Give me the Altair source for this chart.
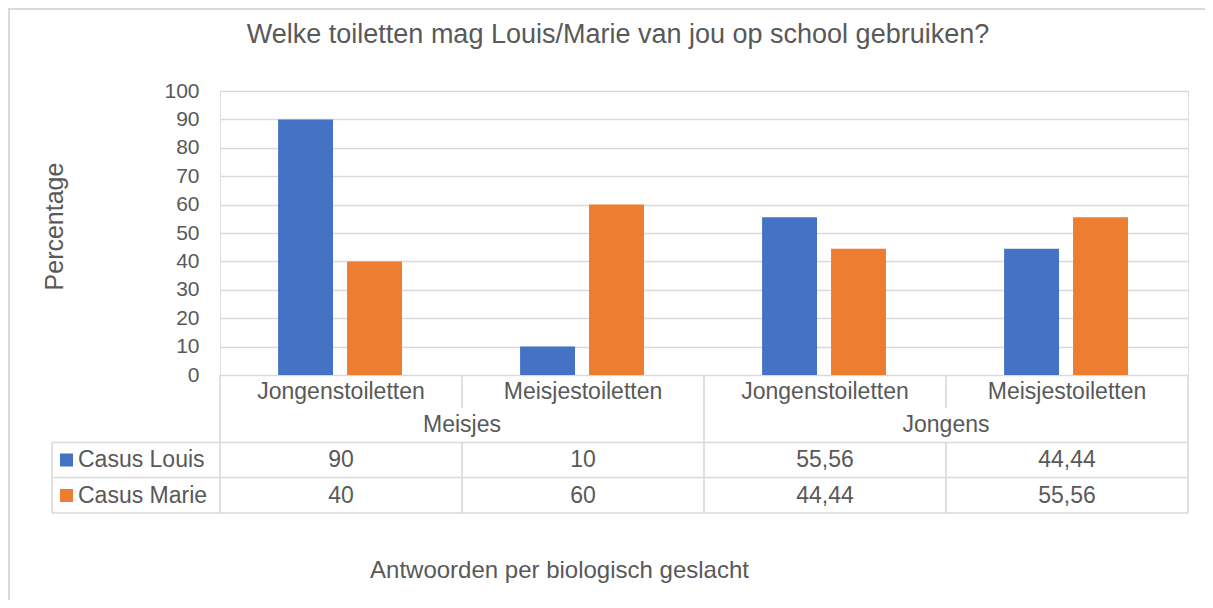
import altair as alt
import pandas as pd

# ---- data ----
categories = ["Jongenstoiletten", "Meisjestoiletten", "Jongenstoiletten", "Meisjestoiletten"]
groups = ["Meisjes", "Jongens"]
series = ["Casus Louis", "Casus Marie"]
louis = [90, 10, 55.56, 44.44]
marie = [40, 60, 44.44, 55.56]
colors = ["#4472C4", "#ED7D31"]
y_ticks = [0, 10, 20, 30, 40, 50, 60, 70, 80, 90, 100]

title_text = "Welke toiletten mag Louis/Marie van jou op school gebruiken?"
x_title = "Antwoorden per biologisch geslacht"
y_title = "Percentage"

# ---- style / layout constants ----
TEXT = "#595959"
GRID = "#D9D9D9"
FONT = "Liberation Sans"
W, H = 968, 284
PX = H / 100.0            # pixels per y unit
CAT_PX = W / 4.0          # pixels per category
TFS = 23                  # table font size


def below(px):
    """y value (data units) for a position px pixels below the x axis"""
    return -px / PX


LEG = -168 / CAT_PX       # left edge of the legend column (x units)
ROW = [below(16.5), below(50), below(85), below(120.5)]     # row centres
LINE = [0, below(33), below(67.5), below(102.5), below(138)]  # row borders

bar_off = {series[0]: (0.24, 0.467), series[1]: (0.525, 0.752)}


def fmt(v):
    return f"{v:g}".replace(".", ",")


# bars
bar_rows = []
for s, vals in zip(series, [louis, marie]):
    a, b = bar_off[s]
    for i, v in enumerate(vals):
        bar_rows.append({"series": s, "x": i + a, "x2": i + b, "y": v, "y2": 0})
bars_df = pd.DataFrame(bar_rows)

# table lines
lines = []
for xv in [0, 2, 4]:
    lines.append({"x": xv, "x2": xv, "y": LINE[0], "y2": LINE[4]})
for xv in [1, 3]:
    lines.append({"x": xv, "x2": xv, "y": LINE[0], "y2": LINE[1]})
    lines.append({"x": xv, "x2": xv, "y": LINE[2], "y2": LINE[4]})
lines.append({"x": LEG, "x2": LEG, "y": LINE[2], "y2": LINE[4]})
for yv in [LINE[2], LINE[3], LINE[4]]:
    lines.append({"x": LEG, "x2": 4, "y": yv, "y2": yv})
lines_df = pd.DataFrame(lines)

# centred table texts
texts = []
for i, c in enumerate(categories):
    texts.append({"x": i + 0.5, "y": ROW[0], "t": c})
for j, g in enumerate(groups):
    texts.append({"x": 2 * j + 1, "y": ROW[1], "t": g})
for r, vals in enumerate([louis, marie]):
    for i, v in enumerate(vals):
        texts.append({"x": i + 0.5, "y": ROW[2 + r], "t": fmt(v)})
texts_df = pd.DataFrame(texts)

# legend column
leg_df = pd.DataFrame({
    "series": series,
    "x": [LEG + 14.5 / CAT_PX] * 2,
    "xt": [LEG + 26 / CAT_PX] * 2,
    "y": [ROW[2], ROW[3]],
})

x_scale = alt.Scale(domain=[0, 4], nice=False, zero=False)
y_scale = alt.Scale(domain=[0, 100], nice=False, zero=False)
color_scale = alt.Scale(domain=series, range=colors)

x_axis = alt.Axis(labels=False, ticks=False, domain=False, grid=False,
                  titleX=339, titleY=202, titleAlign="center",
                  titleBaseline="alphabetic", titleFontSize=24,
                  titleFont=FONT, titleColor=TEXT, titleFontWeight="normal")
y_axis = alt.Axis(values=y_ticks, labelFontSize=21, labelFont=FONT,
                  labelColor=TEXT, labelPadding=21, ticks=False,
                  domain=False, grid=True, gridColor=GRID, gridWidth=1.5,
                  titleX=-158, titleY=135, titleAngle=270,
                  titleAlign="center", titleBaseline="alphabetic",
                  titleFontSize=25, titleFont=FONT, titleColor=TEXT,
                  titleFontWeight="normal")


def X(field):
    return alt.X(field, scale=x_scale, axis=x_axis, title=x_title)


def Y(field):
    return alt.Y(field, scale=y_scale, axis=y_axis, title=y_title)


bars = alt.Chart(bars_df).mark_rect().encode(
    x=X("x:Q"), x2="x2:Q", y=Y("y:Q"), y2="y2:Q",
    color=alt.Color("series:N", scale=color_scale, legend=None),
)

rules = alt.Chart(lines_df).mark_rule(color=GRID, strokeWidth=1.6).encode(
    x=X("x:Q"), x2="x2:Q", y=Y("y:Q"), y2="y2:Q",
)

table_text = alt.Chart(texts_df).mark_text(
    font=FONT, fontSize=TFS, color=TEXT, align="center", baseline="middle"
).encode(x=X("x:Q"), y=Y("y:Q"), text="t:N")

leg_sq = alt.Chart(leg_df).mark_square(size=169, opacity=1).encode(
    x=X("x:Q"), y=Y("y:Q"),
    color=alt.Color("series:N", scale=color_scale, legend=None),
)
leg_txt = alt.Chart(leg_df).mark_text(
    font=FONT, fontSize=TFS, color=TEXT, align="left", baseline="middle"
).encode(x=X("xt:Q"), y=Y("y:Q"), text="series:N")

title_df = pd.DataFrame({"t": [title_text]})
title = alt.Chart(title_df).mark_text(
    font=FONT, fontSize=27, color=TEXT, align="center", baseline="alphabetic"
).encode(x=alt.value(398), y=alt.value(-48), text="t:N")

frame_df = pd.DataFrame({"k": [0]})
frame_top = alt.Chart(frame_df).mark_rule(color=GRID, strokeWidth=2).encode(
    x=alt.value(-212), x2=alt.value(1000), y=alt.value(-82), y2=alt.value(-82))
frame_left = alt.Chart(frame_df).mark_rule(color=GRID, strokeWidth=2).encode(
    x=alt.value(-211), x2=alt.value(-211), y=alt.value(-83), y2=alt.value(520))

chart = alt.layer(
    bars, rules, table_text, leg_sq, leg_txt, title, frame_top, frame_left
).properties(
    width=W, height=H,
    autosize=alt.AutoSizeParams(type="none"),
    padding={"left": 212, "top": 83, "right": 17, "bottom": 225},
).configure_view(strokeWidth=0).configure(background="white")

chart.save("out.html", embed_options={"renderer": "svg", "actions": False})
